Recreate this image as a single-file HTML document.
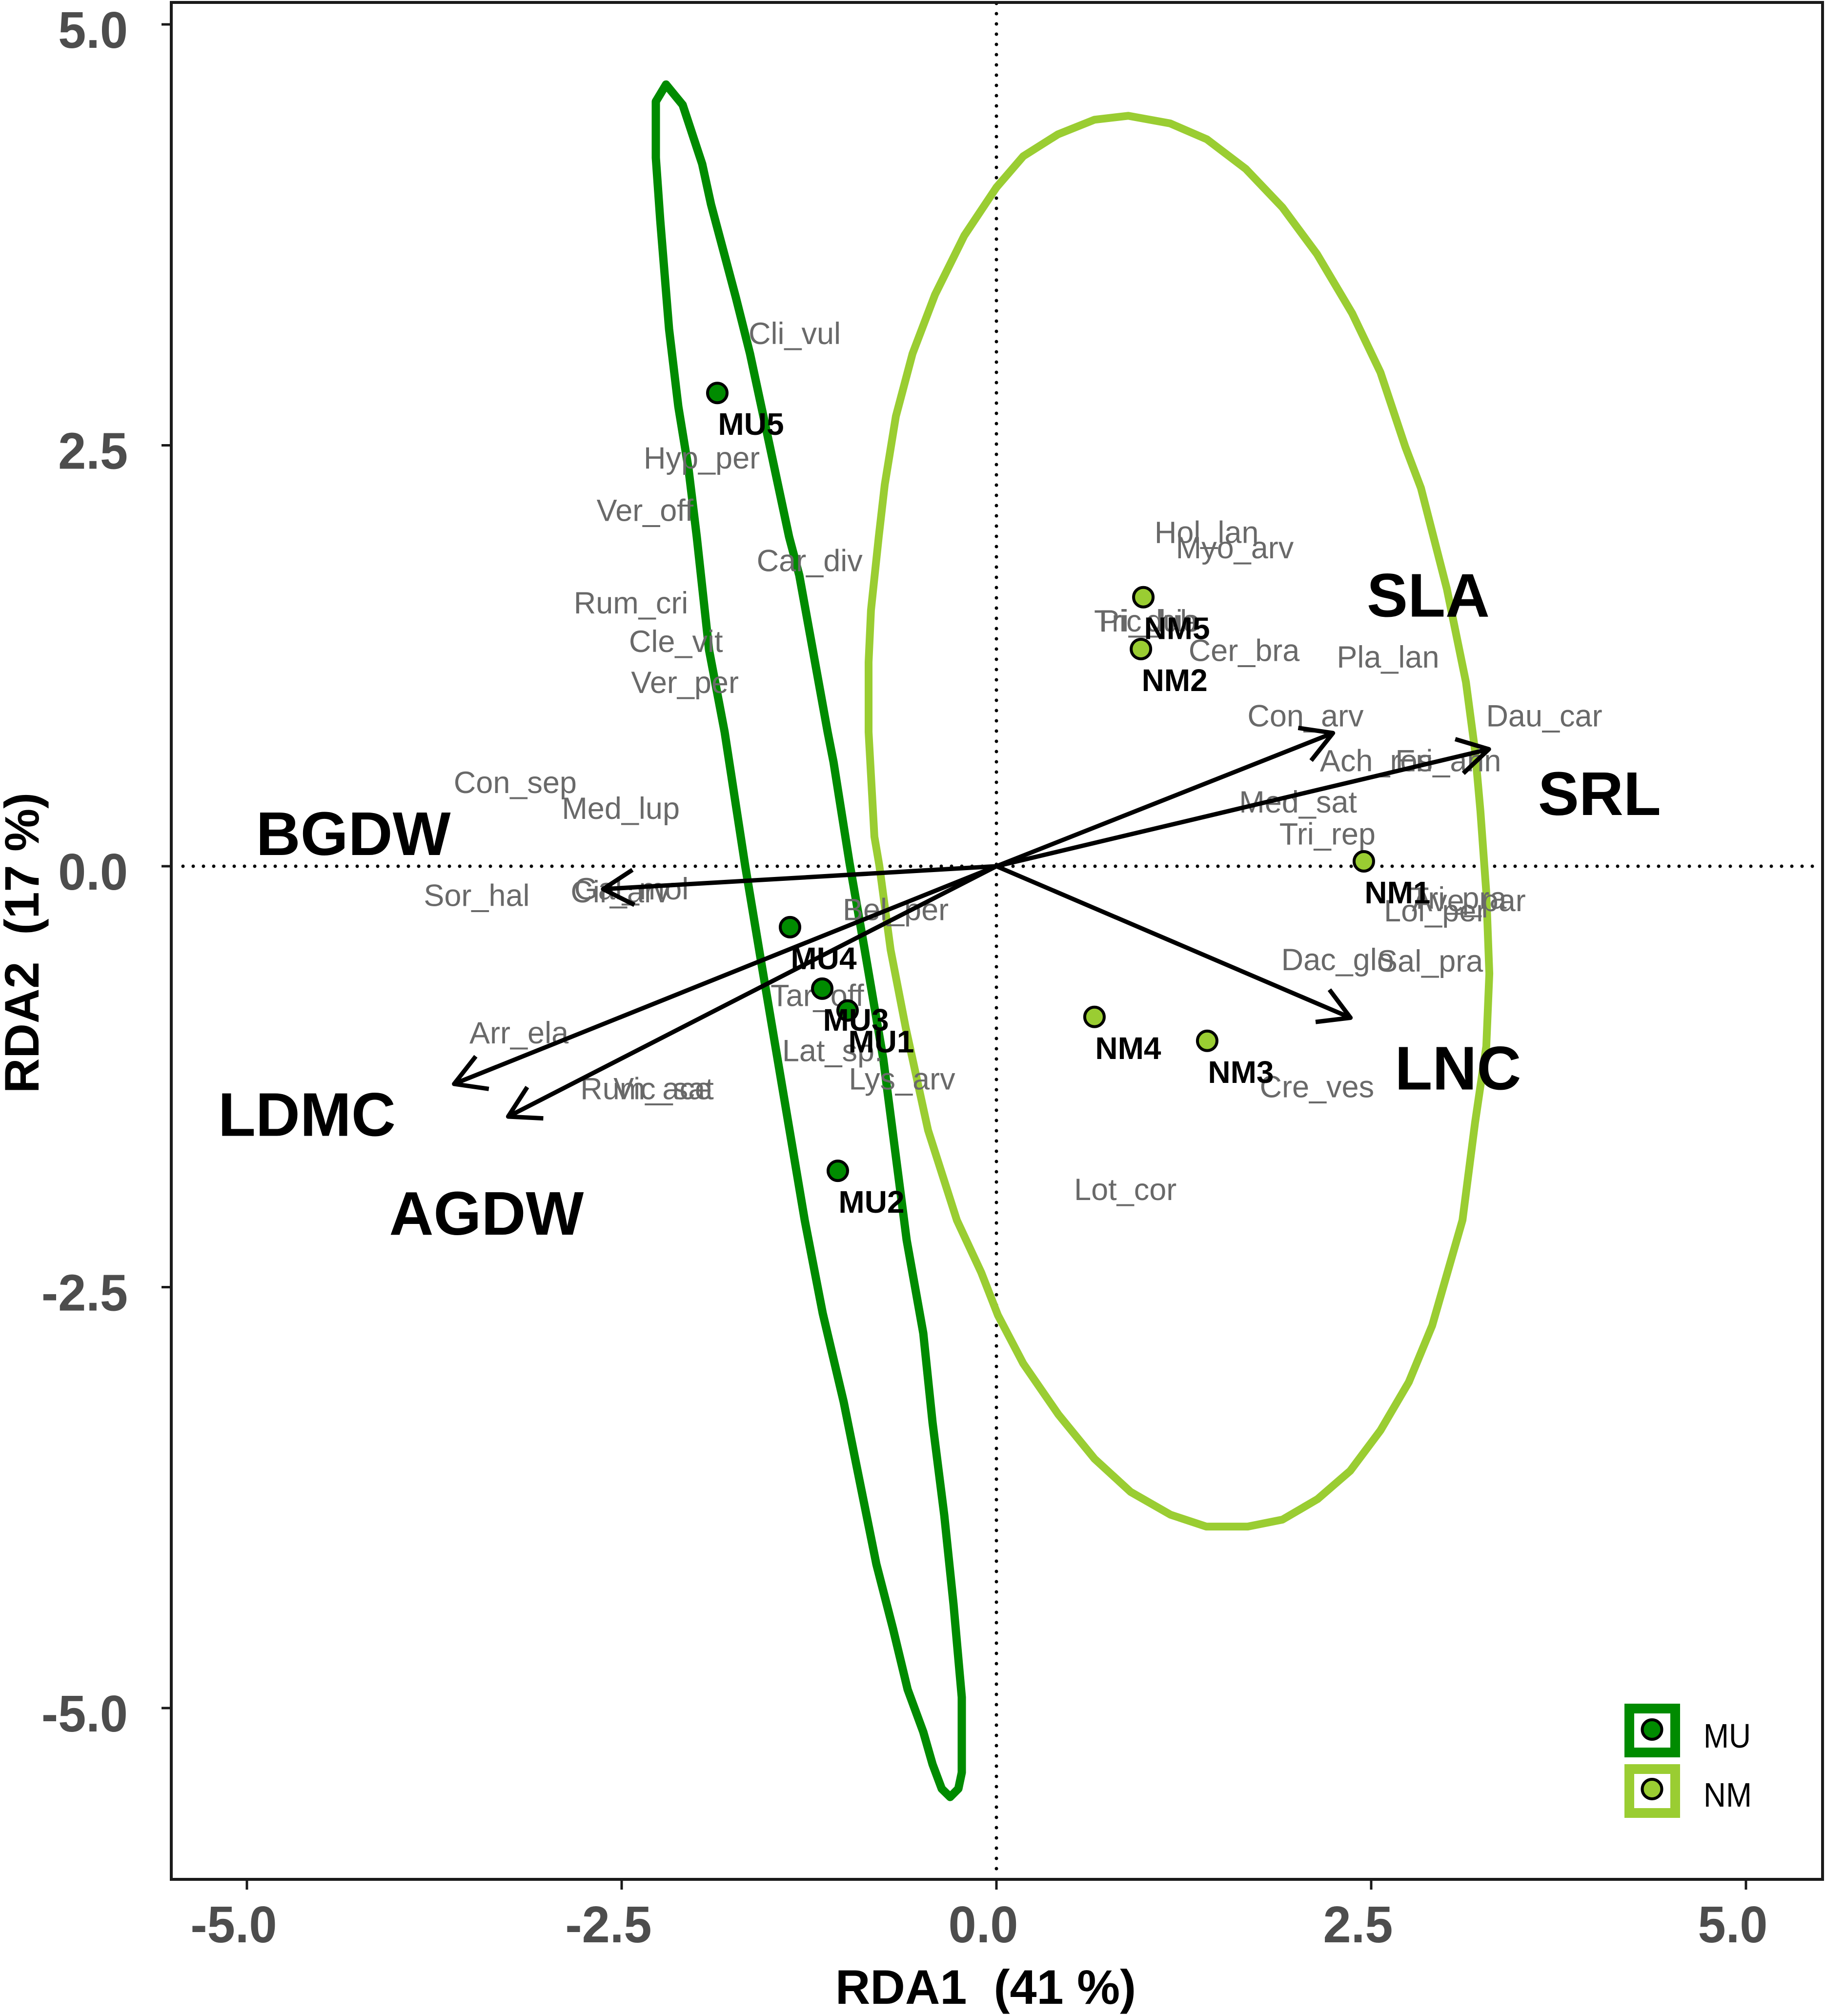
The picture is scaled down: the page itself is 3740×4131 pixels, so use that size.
<!DOCTYPE html>
<html lang="en">
<head>
<meta charset="utf-8">
<title>RDA biplot of MU and NM plots</title>
<style>
html,body{margin:0;padding:0;background:#fff;}
svg{display:block;}
text{font-family:"Liberation Sans",sans-serif;}
</style>
</head>
<body>
<svg id="chart" xmlns="http://www.w3.org/2000/svg" width="3740" height="4131" viewBox="0 0 3740 4131">
  <rect x="0" y="0" width="3740" height="4131" fill="#ffffff"/>
  <g id="reference-lines"></g>
  <g id="ellipses"></g>
  <g id="species"></g>
  <g id="arrows"></g>
  <g id="points"></g>
  <g id="site-labels"></g>
  <g id="trait-labels"></g>
  <rect x="351" y="5" width="3384" height="3846" fill="none" stroke="#1a1a1a" stroke-width="6"/>
  <g id="x-axis"></g>
  <g id="y-axis"></g>
  <text x="2020" y="4106" text-anchor="middle" font-size="99" font-weight="700" fill="#000" xml:space="preserve">RDA1  (41 %)</text>
  <text transform="translate(79,1932) rotate(-90)" text-anchor="middle" font-size="99" font-weight="700" fill="#000" xml:space="preserve">RDA2  (17 %)</text>
  <g>
    <g>
      <rect x="3339" y="3501" width="94" height="90" fill="#fff" stroke="#008B00" stroke-width="20"/>
      <circle cx="3385.5" cy="3544" r="20" fill="#008B00" stroke="#000" stroke-width="6"/>
      <text x="3491" y="3581" font-size="70" textLength="97" lengthAdjust="spacingAndGlyphs" fill="#000">MU</text>
    </g>
    <g>
      <rect x="3339" y="3625" width="94" height="90" fill="#fff" stroke="#9ACD32" stroke-width="20"/>
      <circle cx="3385.5" cy="3666" r="20" fill="#9ACD32" stroke="#000" stroke-width="6"/>
      <text x="3491" y="3702" font-size="70" textLength="99" lengthAdjust="spacingAndGlyphs" fill="#000">NM</text>
    </g>
  </g>
</svg>
<script>
// ---- chart data (all values in RDA axis units) ----
var xTickValues = [-5, -2.5, 0, 2.5, 5];
var xTickLabels = ["-5.0", "-2.5", "0.0", "2.5", "5.0"];
var yTickValues = [5, 2.5, 0, -2.5, -5];
var yTickLabels = ["5.0", "2.5", "0.0", "-2.5", "-5.0"];

var muEllipseX = [-2.204,-2.093,-1.963,-1.904,-1.738,-1.644,-1.533,-1.383,-1.315,-1.126,-1.087,-0.980,-0.879,-0.755,-0.599,-0.488,-0.426,-0.348,-0.286,-0.231,-0.231,-0.254,-0.309,-0.365,-0.426,-0.488,-0.592,-0.690,-0.801,-1.019,-1.159,-1.279,-1.478,-1.576,-1.676,-1.813,-1.917,-1.999,-2.054,-2.122,-2.184,-2.243,-2.272,-2.272,-2.272];
var muEllipseY = [4.643,4.522,4.171,3.931,3.377,3.044,2.583,1.956,1.728,0.797,0.620,0.020,-0.496,-1.144,-2.220,-2.774,-3.305,-3.855,-4.385,-4.936,-5.383,-5.479,-5.528,-5.479,-5.334,-5.142,-4.890,-4.528,-4.145,-3.182,-2.655,-2.102,-1.052,-0.534,0.003,0.797,1.284,1.956,2.360,2.730,3.191,3.838,4.208,4.412,4.542];
var nmEllipseX = [0.879,1.159,1.403,1.663,1.908,2.139,2.373,2.562,2.728,2.832,3.005,3.132,3.193,3.229,3.268,3.288,3.268,3.193,3.109,2.907,2.751,2.562,2.360,2.142,1.908,1.676,1.400,1.162,0.895,0.654,0.413,0.179,0.010,-0.101,-0.264,-0.456,-0.605,-0.706,-0.781,-0.814,-0.853,-0.853,-0.837,-0.785,-0.745,-0.671,-0.560,-0.410,-0.215,0,0.179,0.410,0.654];
var nmEllipseY = [4.457,4.412,4.318,4.142,3.913,3.635,3.284,2.933,2.490,2.246,1.647,1.093,0.684,0.325,-0.157,-0.638,-1.069,-1.522,-2.102,-2.728,-3.064,-3.351,-3.591,-3.759,-3.881,-3.922,-3.922,-3.852,-3.716,-3.519,-3.256,-2.954,-2.667,-2.414,-2.102,-1.568,-0.959,-0.496,0.003,0.176,0.797,1.212,1.521,1.956,2.266,2.672,3.044,3.394,3.745,4.032,4.217,4.347,4.434];

var siteNames = ["MU1","MU2","MU3","MU4","MU5","NM1","NM2","NM3","NM4","NM5"];
var siteGroups = ["MU","MU","MU","MU","MU","NM","NM","NM","NM","NM"];
var siteX = [-0.993,-1.058,-1.162,-1.377,-1.862,2.451,0.964,1.406,0.654,0.980];
var siteY = [-0.857,-1.809,-0.727,-0.362,2.811,0.029,1.290,-1.037,-0.895,1.598];

var traitNames = ["SLA","SRL","LNC","BGDW","LDMC","AGDW"];
var traitX = [2.245,3.285,2.362,-2.624,-3.618,-3.257];
var traitY = [0.791,0.695,-0.900,-0.136,-1.293,-1.487];
var traitLabelX = [2.881,4.023,3.079,-4.290,-4.600,-3.402];
var traitLabelY = [1.482,0.304,-1.326,0.067,-1.601,-2.188];

var speciesNames = ["Cli_vul","Hyp_per","Ver_off","Car_div","Rum_cri","Cle_vit","Ver_per","Con_sep","Med_lup","Gal_mol","Cir_arv","Sor_hal","Arr_ela","Rum_ace","Vic_sat","Bel_per","Tar_off","Lat_sp.","Lys_arv","Lot_cor","Cre_ves","Dac_glo","Sal_pra","Lol_per","Tri_pra","Ave_par","Tri_rep","Med_sat","Ach_ros","Eri_ann","Con_arv","Dau_car","Pla_lan","Cer_bra","Hol_lan","Myo_arv","Pic_hie","Tri_dub"];
var speciesX = [-1.346,-1.966,-2.344,-1.246,-2.438,-2.138,-2.078,-3.210,-2.506,-2.435,-2.510,-3.467,-3.185,-2.337,-2.220,-0.672,-1.195,-1.093,-0.630,0.860,2.138,2.276,2.893,2.927,3.082,3.151,2.208,2.012,2.534,3.014,2.062,3.654,2.612,1.652,1.402,1.590,1.020,0.995];
var speciesY = [3.168,2.429,2.117,1.819,1.568,1.339,1.095,0.501,0.348,-0.130,-0.148,-0.170,-0.986,-1.317,-1.317,-0.254,-0.764,-1.092,-1.260,-1.916,-1.306,-0.551,-0.559,-0.261,-0.185,-0.200,0.196,0.386,0.630,0.630,0.897,0.897,1.247,1.286,1.987,1.896,1.461,1.461];

// ---- axis functions ----
var PANEL = {left: 351, right: 3735, top: 5, bottom: 3851};
function xScale(v) { return 2042 + v * 307.2; }
function yScale(v) { return 1775 - v * 345; }

var NS = "http://www.w3.org/2000/svg";
function make(parentId, tag, attrs, txt) {
  var n = document.createElementNS(NS, tag);
  for (var k in attrs) { n.setAttribute(k, attrs[k]); }
  if (txt !== undefined) { n.textContent = txt; }
  document.getElementById(parentId).appendChild(n);
  return n;
}
function pointString(xs, ys) {
  var out = [];
  for (var i = 0; i < xs.length; i++) { out.push(xScale(xs[i]).toFixed(1) + "," + yScale(ys[i]).toFixed(1)); }
  return out.join(" ");
}
var el;

// reference lines
el = make("reference-lines", "line", {x1: PANEL.left + 24, x2: PANEL.right - 4, y1: yScale(0), y2: yScale(0), stroke: "#000", "stroke-width": 7, "stroke-linecap": "round", "stroke-dasharray": "0 21"});


el = make("reference-lines", "line", {x1: xScale(0), x2: xScale(0), y1: PANEL.top + 2, y2: PANEL.bottom - 4, stroke: "#000", "stroke-width": 7, "stroke-linecap": "round", "stroke-dasharray": "0 21"});



// ellipses
el = make("ellipses", "polygon", {points: pointString(nmEllipseX, nmEllipseY), fill: "none", stroke: "#9ACD32", "stroke-width": 16, "stroke-linejoin": "round"});


el = make("ellipses", "polygon", {points: pointString(muEllipseX, muEllipseY), fill: "none", stroke: "#008B00", "stroke-width": 17, "stroke-linejoin": "round"});



// species labels
speciesNames.forEach(function (name, i) {
  var t = make("species", "text", {x: xScale(speciesX[i]), y: yScale(speciesY[i]) + 23, "text-anchor": "middle", "font-size": 63, fill: "#696969"}, name);
  
  
});

// trait arrows
traitNames.forEach(function (name, i) {
  var x0 = xScale(0), y0 = yScale(0), x1 = xScale(traitX[i]), y1 = yScale(traitY[i]);
  var a = Math.atan2(y1 - y0, x1 - x0), len = 72, sp = Math.PI / 6;
  var shaft = make("arrows", "line", {x1: x0, y1: y0, x2: x1, y2: y1, stroke: "#000", "stroke-width": 9});
  
  
  var head = make("arrows", "polyline", {
    points: (x1 - len * Math.cos(a - sp)).toFixed(1) + "," + (y1 - len * Math.sin(a - sp)).toFixed(1) + " " + x1.toFixed(1) + "," + y1.toFixed(1) + " " + (x1 - len * Math.cos(a + sp)).toFixed(1) + "," + (y1 - len * Math.sin(a + sp)).toFixed(1),
    fill: "none", stroke: "#000", "stroke-width": 9, "stroke-linejoin": "round"
  });
  
  
  var lab = make("trait-labels", "text", {x: xScale(traitLabelX[i]), y: yScale(traitLabelY[i]), "text-anchor": "middle", "font-size": 126, "font-weight": 700, fill: "#000"}, name);
  
  
});

// site points and labels
siteNames.forEach(function (name, i) {
  var c = make("points", "circle", {cx: xScale(siteX[i]), cy: yScale(siteY[i]), r: 20, fill: siteGroups[i] === "MU" ? "#008B00" : "#9ACD32", stroke: "#000", "stroke-width": 6});
  
  
  var t = make("site-labels", "text", {x: xScale(siteX[i]) + 69, y: yScale(siteY[i]) + 86, "text-anchor": "middle", "font-size": 64, "font-weight": 700, fill: "#000"}, name);
  
  
});

// axes
xTickValues.forEach(function (v, i) {
  var tick = make("x-axis", "line", {x1: xScale(v), x2: xScale(v), y1: PANEL.bottom, y2: PANEL.bottom + 21, stroke: "#1a1a1a", "stroke-width": 5});
  
  
  var t = make("x-axis", "text", {transform: "translate(" + (xScale(v) - 27) + ",3980) scale(0.97,1)", "text-anchor": "middle", "font-size": 106, "font-weight": 700, fill: "#4D4D4D"}, xTickLabels[i]);
  
  
});
yTickValues.forEach(function (v, i) {
  var tick = make("y-axis", "line", {x1: PANEL.left - 20, x2: PANEL.left, y1: yScale(v), y2: yScale(v), stroke: "#1a1a1a", "stroke-width": 5});
  
  
  var t = make("y-axis", "text", {transform: "translate(262," + (yScale(v) + 48) + ") scale(0.97,1)", "text-anchor": "end", "font-size": 106, "font-weight": 700, fill: "#4D4D4D"}, yTickLabels[i]);
  
  
});
</script>
</body>
</html>
